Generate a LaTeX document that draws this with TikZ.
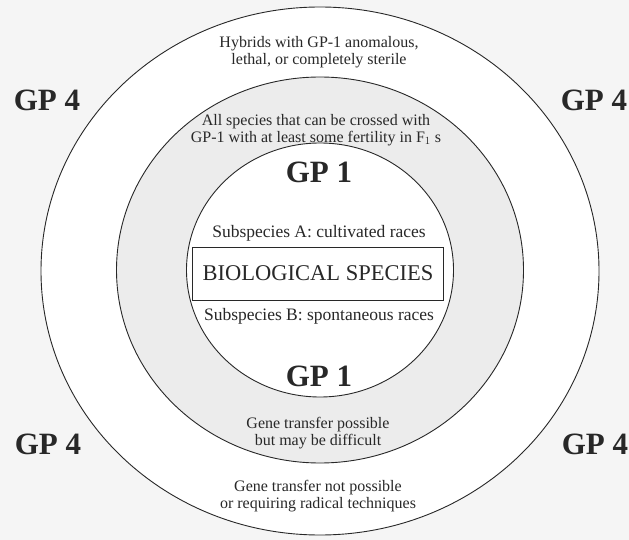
\documentclass[tikz,border=0pt]{standalone}
\usepackage{fontspec}
\setmainfont{Liberation Serif}
\usepackage{xcolor}
\usepackage{tikz}
\definecolor{paper}{RGB}{245,245,245}
\definecolor{ringgray}{RGB}{236,236,236}
\definecolor{ink}{RGB}{40,40,40}
\tikzset{
  zonetext/.style={ink,align=center,font=\fontsize{16}{17}\selectfont},
  subtext/.style={ink,font=\fontsize{17.5}{20}\selectfont},
  gplabel/.style={ink,font=\fontsize{31}{33}\selectfont\bfseries},
  zoneline/.style={draw=ink,line width=0.9pt},
}
\begin{document}
\begin{tikzpicture}[x=1pt,y=-1pt]
% page
\fill[paper] (0,0) rectangle (629,540);
\useasboundingbox (0,0) rectangle (629,540);
% zones: GP 3 (outer), GP 2 (gray ring), GP 1 (inner)
\filldraw[zoneline,fill=white] (320,271) ellipse [x radius=279pt,y radius=264pt];
\filldraw[zoneline,fill=ringgray] (320,270) ellipse [x radius=203.5pt,y radius=193pt];
\filldraw[zoneline,fill=white] (320,270) ellipse [x radius=133.5pt,y radius=127pt];
% zone texts
\node[zonetext] (hybrids) at (319,52) {Hybrids with GP-1 anomalous,\\lethal, or completely sterile};
\node[zonetext] (crossed) at (316,130) {All species that can be crossed with\\GP-1 with at least some fertility in F$_1$ s};
\node[gplabel] (gpA) at (319,172) {GP 1};
\node[subtext] (subA) at (319,233) {Subspecies A: cultivated races};
\node[draw=ink,line width=0.7pt,minimum width=251pt,minimum height=53pt,ink,font=\fontsize{22.5}{26}\selectfont] (biosp) at (318,273.5) {BIOLOGICAL SPECIES};
\node[subtext] (subB) at (319,316) {Subspecies B: spontaneous races};
\node[gplabel] (gpB) at (319,376) {GP 1};
\node[zonetext] (possible) at (318,433) {Gene transfer possible\\but may be difficult};
\node[zonetext] (notposs) at (318,496) {Gene transfer not possible\\or requiring radical techniques};
% GP 4 in the corners
\node[gplabel] (nw) at (47,100) {GP 4};
\node[gplabel] (ne) at (594,100) {GP 4};
\node[gplabel] (sw) at (48,444) {GP 4};
\node[gplabel] (se) at (595,444) {GP 4};
\end{tikzpicture}
\end{document}
